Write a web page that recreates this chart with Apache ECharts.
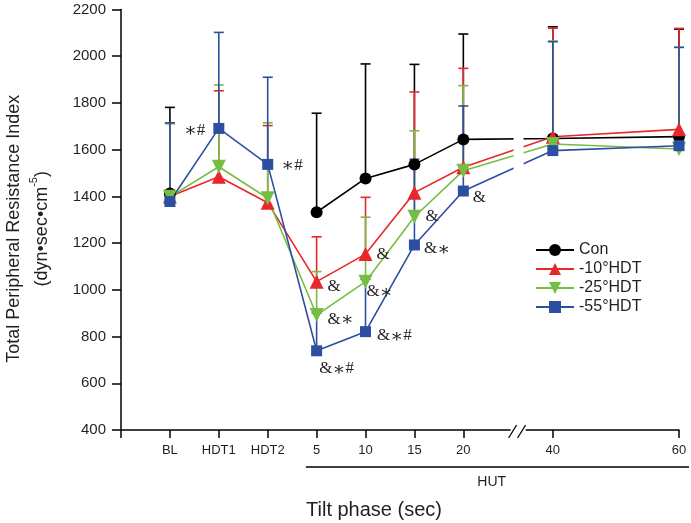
<!DOCTYPE html>
<html><head><meta charset="utf-8">
<script src="https://cdn.jsdelivr.net/npm/echarts@6/dist/echarts.min.js"></script>
<style>html,body{margin:0;padding:0;background:#fff}#c{width:691px;height:523px}</style>
</head><body><div id="c"></div>
<script>
// ---- data ----
const phases   = ['BL','HDT1','HDT2','5','10','15','20','40','60'];
const phasePos = [1, 2, 3, 4, 5, 6, 7, 8.83, 11.41];   // positions on the broken x scale
const breakPos = 8.13;
const yTicks = [400, 600, 800, 1000, 1200, 1400, 1600, 1800, 2000, 2200];

const conMean   = [1412, null, null, 1332, 1477, 1537, 1644, 1648, 1656];
const conErr    = [1781, null, null, 1756, 1967, 1965, 2095, 2126, 2116];
const hdt10Mean = [1400, 1484, 1373, 1035, 1153, 1416, 1525, 1655, 1687];
const hdt10Err  = [1712, 1852, 1703, 1227, 1396, 1847, 1948, 2120, 2119];
const hdt25Mean = [1398, 1527, 1392,  892, 1035, 1313, 1510, 1624, 1603];
const hdt25Err  = [1712, 1877, 1715, 1078, 1311, 1681, 1874, 2065, 2038];
const hdt55Mean = [1378, 1691, 1537,  739,  821, 1192, 1423, 1596, 1617];
const hdt55Err  = [1715, 2102, 1910,  900, 1045, 1559, 1787, 2062, 2038];

const hdt10Marks = ['', '', '', '&', '&', '', '', '', ''];
const hdt25Marks = ['', '', '', '&\u2217', '&\u2217', '&', '', '', ''];
const hdt55Marks = ['', '\u2217#', '\u2217#', '&\u2217#', '&\u2217#', '&\u2217', '&', '', ''];

// ---- styles ----
const C = {con:'#000000', r:'#E8262B', g:'#74BE43', b:'#2D4FA1'};
const labelPlace = {
  hdt10: {3:{position:'right', offset:[0,5]}, 4:{position:'right', offset:[0,0]}},
  hdt25: {3:{position:'right', offset:[0,4]}, 4:{position:'right', offset:[-10,10]}, 5:{position:'right', offset:[0,0]}},
  hdt55: {1:{position:'left', offset:[-4,2]}, 2:{position:'right', offset:[4,1]},
          3:{position:'bottom', offset:[20,-2]}, 4:{position:'right', offset:[2,4]},
          5:{position:'right', offset:[0,4]}, 6:{position:'right', offset:[0,7]}}
};
const serif = 'Liberation Serif, DejaVu Serif, serif';
const markFont = {fontFamily:serif, fontSize:16, color:'#231f20',
  rich:{t:{fontFamily:serif, fontSize:17, color:'#231f20', verticalAlign:'middle'},
        st:{fontFamily:'DejaVu Serif, serif', fontSize:19, color:'#231f20', verticalAlign:'middle', padding:[2,0,0,0]}}};

function markText(s) {
  return s.split('').map(ch => ch === '\u2217' ? '{st|\u2217}' : '{t|' + ch + '}').join('');
}

function lineSeries(name, key, color, means, marks, symbol, size) {
  return {
    type:'line', name, symbol, symbolSize:size, showSymbol:true,
    lineStyle:{color, width:1.6}, itemStyle:{color},
    emphasis:{disabled:true}, animation:false,
    data: means.map((m, i) => {
      const item = {value:[phasePos[i], m == null ? '-' : m]};
      if (marks && marks[i]) {
        const pl = labelPlace[key][i];
        item.label = Object.assign({show:true, formatter:markText(marks[i]), distance:4}, markFont, pl);
      }
      return item;
    })
  };
}
function errSeries(name, color, means, errs) {
  const data = [];
  means.forEach((m, i) => { if (m != null && errs[i] != null) data.push([phasePos[i], m, errs[i]]); });
  return {
    type:'custom', name, animation:false, silent:true,
    encode:{x:0, y:[1,2]},
    renderItem(params, api) {
      const p0 = api.coord([api.value(0), api.value(1)]);
      const p1 = api.coord([api.value(0), api.value(2)]);
      const hw = 5;
      return {type:'group', children:[
        {type:'line', shape:{x1:p0[0], y1:p0[1], x2:p1[0], y2:p1[1]}, style:{stroke:color, lineWidth:1.6}},
        {type:'line', shape:{x1:p1[0]-hw, y1:p1[1], x2:p1[0]+hw, y2:p1[1]}, style:{stroke:color, lineWidth:1.6}}
      ]};
    },
    data
  };
}

const chart = echarts.init(document.getElementById('c'), null, {renderer:'canvas'});
const sans = 'Liberation Sans, Arial, sans-serif';
chart.setOption({
  animation:false,
  grid:{left:121, right:12, top:9.5, bottom:93, containLabel:false, outerBoundsMode:'none'},
  legend:{
    orient:'vertical', left:530, top:237, itemWidth:38, itemHeight:15, itemGap:3,
    data:['Con','-10°HDT','-25°HDT','-55°HDT'],
    textStyle:{fontFamily:sans, fontSize:16, color:'#231f20'}
  },
  xAxis:{
    type:'value', min:0, max:phasePos[phasePos.length-1],
    axisLine:{show:true, lineStyle:{color:'#000', width:1.5}},
    axisTick:{show:true, length:8, lineStyle:{color:'#000', width:1.5}, customValues:[0].concat(phasePos)},
    axisLabel:{customValues:phasePos, margin:14, fontFamily:sans, fontSize:13, color:'#231f20', hideOverlap:false,
      formatter:v => { const i = phasePos.findIndex(p => Math.abs(p - v) < 1e-6); return i < 0 ? '' : phases[i]; }},
    splitLine:{show:false}
  },
  yAxis:{
    type:'value', min:yTicks[0], max:yTicks[yTicks.length-1], interval:200,
    axisLine:{show:true, lineStyle:{color:'#000', width:1.5}},
    axisTick:{show:true, length:9, lineStyle:{color:'#000', width:1.5}},
    axisLabel:{margin:15, fontFamily:sans, fontSize:15, color:'#231f20', formatter:v => String(v)},
    splitLine:{show:false},
    name:'{a|Total Peripheral Resistance Index}\n{a|(dyn•sec•cm}{s|-5}{a|)}',
    nameLocation:'middle', nameGap:65,
    nameTextStyle:{fontFamily:sans, fontSize:18, color:'#231f20', lineHeight:28, padding:[0,18,0,0],
      rich:{a:{fontFamily:sans, fontSize:18, color:'#231f20', lineHeight:28},
            s:{fontFamily:sans, fontSize:11, color:'#231f20', verticalAlign:'top', lineHeight:28, padding:[0,0,10,0]}}}
  },
  series:[
    lineSeries('Con','con',C.con,conMean,null,'circle',12),
    errSeries('Con SD',C.con,conMean,conErr),
    lineSeries('-10°HDT','hdt10',C.r,hdt10Mean,hdt10Marks,'triangle',14),
    errSeries('-10 SD',C.r,hdt10Mean,hdt10Err),
    lineSeries('-25°HDT','hdt25',C.g,hdt25Mean,hdt25Marks,'path://M0,0L10,0L5,9Z',14),
    errSeries('-25 SD',C.g,hdt25Mean,hdt25Err),
    lineSeries('-55°HDT','hdt55',C.b,hdt55Mean,hdt55Marks,'rect',11),
    errSeries('-55 SD',C.b,hdt55Mean,hdt55Err)
  ]
});

// decorations computed from the axis scale
function px(x, y){ return chart.convertToPixel({gridIndex:0}, [x, y]); }
const pb = px(breakPos, 400);
const pTop = px(breakPos, 2200);
const pHutStart = px(phasePos[3] - 0.22, 400);
const pMid = px(phasePos[7] - 1.25, 400);
chart.setOption({graphic:[
  {type:'rect', z:100, shape:{x:pb[0]-5, y:pTop[1]-2, width:10, height:pb[1]-pTop[1]-2}, style:{fill:'#fff'}},
  {type:'rect', z:100, shape:{x:pb[0]-8, y:pb[1]-2, width:15, height:4}, style:{fill:'#fff'}},
  {type:'line', z:101, shape:{x1:pb[0]-10, y1:pb[1]+8, x2:pb[0]-2, y2:pb[1]-5}, style:{stroke:'#000', lineWidth:1.3}},
  {type:'line', z:101, shape:{x1:pb[0]-1, y1:pb[1]+8, x2:pb[0]+7, y2:pb[1]-5}, style:{stroke:'#000', lineWidth:1.3}},
  {type:'line', z:101, shape:{x1:pHutStart[0], y1:467, x2:689, y2:467}, style:{stroke:'#000', lineWidth:1.3}},
  {type:'text', z:101, x:pMid[0], y:482, style:{text:'HUT', font:'14px '+sans, fill:'#231f20', align:'center', verticalAlign:'middle'}},
  {type:'text', z:101, x:374, y:510, style:{text:'Tilt phase (sec)', font:'20px '+sans, fill:'#231f20', align:'center', verticalAlign:'middle'}}
]});
</script>
</body></html>
